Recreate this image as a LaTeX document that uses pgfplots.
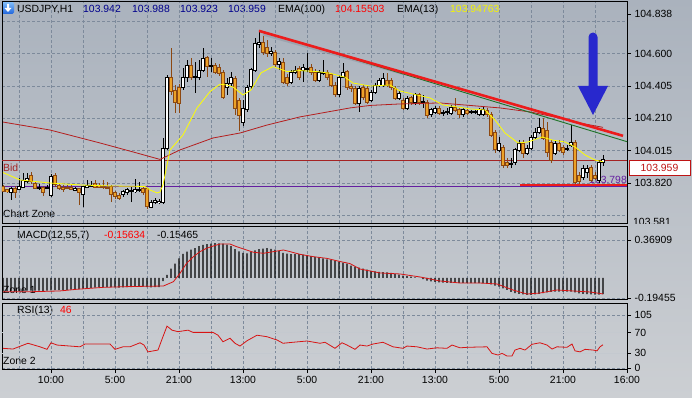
\documentclass[border=0pt]{standalone}
\usepackage{pgfplots}
\pgfplotsset{compat=1.18}
\usepackage{pgfplotstable}
\usepackage{fontspec}
\setmainfont{Liberation Sans}
\newcommand{\tf}{\fontsize{10.4pt}{12pt}\selectfont}
\definecolor{bgtop}{RGB}{170,178,189}
\definecolor{bgbot}{RGB}{204,207,211}
\definecolor{gridc}{RGB}{125,138,155}
\definecolor{candor}{RGB}{236,162,40}
\definecolor{candbr}{RGB}{140,72,18}
\definecolor{emay}{RGB}{255,255,0}
\definecolor{emar}{RGB}{180,30,30}
\definecolor{bidc}{RGB}{165,35,35}
\definecolor{purp}{RGB}{100,30,160}
\definecolor{trendr}{RGB}{236,28,28}
\definecolor{trendg}{RGB}{30,115,40}
\definecolor{arrb}{RGB}{40,40,205}
\definecolor{sigr}{RGB}{215,20,20}
\definecolor{navyc}{RGB}{0,0,140}
\definecolor{titley}{RGB}{245,245,0}
\definecolor{boxred}{RGB}{190,20,20}
\definecolor{lvlc}{RGB}{196,201,207}
\definecolor{icontop}{RGB}{130,190,250}
\definecolor{iconbot}{RGB}{30,100,220}
\definecolor{shadowc}{RGB}{140,148,160}

\pgfplotstableread{
i o h l c
0 103.802 103.808 103.766 103.772
1 103.778 103.784 103.760 103.766
2 103.766 103.796 103.718 103.790
3 103.790 103.802 103.730 103.766
4 103.784 103.850 103.778 103.802
5 103.796 103.880 103.790 103.838
6 103.826 103.880 103.820 103.850
7 103.868 103.886 103.814 103.826
8 103.820 103.832 103.784 103.790
9 103.790 103.814 103.778 103.796
10 103.790 103.802 103.742 103.760
11 103.790 103.808 103.784 103.796
12 103.748 103.874 103.736 103.862
13 103.868 103.880 103.796 103.808
14 103.808 103.820 103.778 103.790
15 103.796 103.808 103.766 103.784
16 103.796 103.808 103.784 103.790
17 103.796 103.814 103.778 103.784
18 103.778 103.796 103.772 103.790
19 103.784 103.790 103.687 103.760
20 103.748 103.802 103.675 103.796
21 103.796 103.838 103.790 103.808
22 103.802 103.832 103.796 103.808
23 103.820 103.838 103.790 103.796
24 103.808 103.820 103.790 103.796
25 103.802 103.838 103.784 103.796
26 103.796 103.826 103.784 103.790
27 103.796 103.808 103.705 103.748
28 103.760 103.772 103.724 103.736
29 103.748 103.760 103.718 103.730
30 103.748 103.778 103.736 103.766
31 103.760 103.790 103.748 103.778
32 103.766 103.796 103.705 103.772
33 103.766 103.844 103.760 103.778
34 103.778 103.826 103.766 103.784
35 103.784 103.796 103.748 103.760
36 103.784 103.790 103.663 103.675
37 103.675 103.718 103.669 103.705
38 103.705 103.730 103.693 103.718
39 103.705 103.724 103.693 103.712
40 103.705 104.091 103.693 104.031
41 104.031 104.471 104.019 104.458
42 104.458 104.633 104.350 104.368
43 104.380 104.410 104.242 104.308
44 104.398 104.416 104.242 104.302
45 104.398 104.513 104.380 104.458
46 104.458 104.561 104.428 104.531
47 104.531 104.573 104.440 104.458
48 104.458 104.549 104.362 104.464
49 104.458 104.561 104.440 104.501
50 104.501 104.633 104.489 104.573
51 104.573 104.585 104.458 104.519
52 104.525 104.573 104.489 104.531
53 104.531 104.543 104.477 104.489
54 104.519 104.537 104.465 104.483
55 104.483 104.501 104.326 104.338
56 104.398 104.452 104.350 104.422
57 104.422 104.489 104.404 104.458
58 104.452 104.465 104.230 104.272
59 104.320 104.332 104.133 104.230
60 104.187 104.320 104.163 104.272
61 104.260 104.410 104.248 104.398
62 104.398 104.513 104.386 104.501
63 104.501 104.693 104.489 104.663
64 104.657 104.742 104.633 104.669
65 104.669 104.705 104.591 104.603
66 104.639 104.681 104.579 104.603
67 104.603 104.639 104.585 104.615
68 104.603 104.621 104.513 104.531
69 104.531 104.573 104.501 104.549
70 104.549 104.573 104.416 104.428
71 104.458 104.477 104.404 104.422
72 104.428 104.501 104.416 104.489
73 104.489 104.525 104.477 104.501
74 104.507 104.525 104.440 104.458
75 104.501 104.537 104.428 104.519
76 104.507 104.603 104.489 104.513
77 104.519 104.537 104.471 104.489
78 104.489 104.507 104.428 104.440
79 104.440 104.501 104.428 104.489
80 104.483 104.561 104.471 104.489
81 104.489 104.501 104.440 104.458
82 104.471 104.483 104.398 104.410
83 104.410 104.428 104.338 104.350
84 104.350 104.471 104.338 104.458
85 104.458 104.543 104.452 104.489
86 104.489 104.501 104.380 104.398
87 104.404 104.416 104.368 104.392
88 104.392 104.404 104.290 104.302
89 104.302 104.404 104.248 104.392
90 104.398 104.410 104.320 104.338
91 104.392 104.404 104.296 104.308
92 104.320 104.380 104.308 104.368
93 104.368 104.422 104.356 104.410
94 104.410 104.452 104.398 104.440
95 104.410 104.483 104.398 104.452
96 104.440 104.483 104.398 104.410
97 104.440 104.452 104.380 104.398
98 104.392 104.404 104.320 104.332
99 104.332 104.374 104.320 104.362
100 104.320 104.332 104.260 104.272
101 104.272 104.344 104.260 104.332
102 104.332 104.344 104.290 104.302
103 104.302 104.362 104.290 104.350
104 104.350 104.362 104.290 104.302
105 104.308 104.350 104.272 104.314
106 104.308 104.320 104.211 104.230
107 104.230 104.272 104.218 104.260
108 104.248 104.284 104.236 104.272
109 104.272 104.284 104.230 104.242
110 104.236 104.260 104.224 104.242
111 104.242 104.272 104.230 104.248
112 104.242 104.290 104.230 104.278
113 104.278 104.332 104.248 104.260
114 104.260 104.272 104.211 104.230
115 104.230 104.272 104.218 104.260
116 104.260 104.272 104.230 104.242
117 104.242 104.260 104.236 104.248
118 104.242 104.260 104.236 104.248
119 104.230 104.272 104.224 104.260
120 104.230 104.278 104.224 104.260
121 104.254 104.272 104.218 104.230
122 104.230 104.248 104.097 104.109
123 104.127 104.139 104.001 104.019
124 104.019 104.097 104.007 104.061
125 104.037 104.049 103.910 103.928
126 103.946 103.971 103.910 103.928
127 103.934 103.971 103.910 103.940
128 103.940 104.031 103.928 104.019
129 104.019 104.079 104.007 104.061
130 104.061 104.079 103.971 104.001
131 104.001 104.049 103.989 104.031
132 104.031 104.109 104.019 104.097
133 104.097 104.151 104.085 104.127
134 104.127 104.211 104.115 104.157
135 104.151 104.211 104.079 104.091
136 104.139 104.187 103.977 104.001
137 104.067 104.079 103.940 103.958
138 104.001 104.079 103.989 104.061
139 104.061 104.079 104.007 104.019
140 104.037 104.049 103.989 104.007
141 104.025 104.049 104.013 104.031
142 104.049 104.169 104.037 104.067
143 104.067 104.079 103.808 103.826
144 103.868 103.886 103.814 103.826
145 103.856 103.928 103.838 103.910
146 103.886 103.928 103.850 103.910
147 103.916 103.928 103.826 103.838
148 103.868 103.886 103.838 103.850
149 103.838 103.958 103.820 103.946
150 103.942 103.988 103.923 103.959
}\candles

\pgfplotstableread{
i m
0 -0.128
1 -0.128
2 -0.127
3 -0.127
4 -0.126
5 -0.124
6 -0.122
7 -0.122
8 -0.123
9 -0.124
10 -0.125
11 -0.124
12 -0.120
13 -0.118
14 -0.118
15 -0.117
16 -0.115
17 -0.113
18 -0.110
19 -0.108
20 -0.104
21 -0.100
22 -0.097
23 -0.094
24 -0.092
25 -0.090
26 -0.089
27 -0.090
28 -0.092
29 -0.093
30 -0.092
31 -0.090
32 -0.088
33 -0.086
34 -0.085
35 -0.085
36 -0.090
37 -0.092
38 -0.090
39 -0.088
40 -0.030
41 0.030
42 0.090
43 0.140
44 0.190
45 0.235
46 0.255
47 0.275
48 0.290
49 0.310
50 0.322
51 0.328
52 0.335
53 0.338
54 0.337
55 0.333
56 0.325
57 0.310
58 0.280
59 0.258
60 0.245
61 0.240
62 0.255
63 0.268
64 0.280
65 0.286
66 0.289
67 0.282
68 0.275
69 0.262
70 0.243
71 0.237
72 0.232
73 0.231
74 0.233
75 0.228
76 0.222
77 0.212
78 0.206
79 0.200
80 0.190
81 0.180
82 0.176
83 0.170
84 0.160
85 0.150
86 0.140
87 0.120
88 0.110
89 0.100
90 0.090
91 0.080
92 0.070
93 0.065
94 0.060
95 0.058
96 0.055
97 0.050
98 0.040
99 0.032
100 0.024
101 0.018
102 0.012
103 0.006
104 0.002
105 -0.010
106 -0.025
107 -0.033
108 -0.038
109 -0.042
110 -0.045
111 -0.047
112 -0.047
113 -0.046
114 -0.047
115 -0.048
116 -0.048
117 -0.049
118 -0.050
119 -0.050
120 -0.051
121 -0.052
122 -0.062
123 -0.075
124 -0.085
125 -0.100
126 -0.115
127 -0.135
128 -0.148
129 -0.155
130 -0.160
131 -0.163
132 -0.163
133 -0.160
134 -0.155
135 -0.148
136 -0.140
137 -0.136
138 -0.133
139 -0.132
140 -0.132
141 -0.133
142 -0.133
143 -0.140
144 -0.150
145 -0.155
146 -0.158
147 -0.160
148 -0.162
149 -0.162
150 -0.156
}\macd

\pgfplotsset{
  panel/.style={
    scale only axis, width=625pt, anchor=south west,
    xmin=-0.25, xmax=156,
    axis line style={black, line width=0.9pt},
    xtick={12,28,...,156}, minor xtick={4,20,...,148},
    xmajorgrids, xminorgrids,
    major grid style={gridc, dash pattern=on 3pt off 2pt, line width=0.6pt},
    minor grid style={gridc, dash pattern=on 3pt off 2pt, line width=0.6pt},
    minor tick length=0pt, major tick length=4pt, tick align=outside,
    ytick pos=right, yticklabel pos=right, xtick pos=bottom,
    tick label style={font=\tf, text=black},
    tick style={black, line width=0.6pt},
  },
  wick/.style 2 args={draw=none, mark=none, forget plot,
    error bars/y dir=plus, error bars/y explicit, error bars/error mark=none,
    error bars/error bar style={draw=#1, line width=#2, solid}},
  body/.style 2 args={draw=none, mark=none, forget plot,
    error bars/y dir=both, error bars/y explicit, error bars/error mark=none,
    error bars/error bar style={draw=#1, line width=#2, solid}},
}

\begin{document}
\begin{tikzpicture}[x=1pt,y=1pt]
\useasboundingbox (0,0) rectangle (692,397);
\shade[top color=bgtop, bottom color=bgbot] (0,0) rectangle (692,397);

% title row
\shade[rounded corners=1.5pt, top color=icontop, bottom color=iconbot] (2,383) rectangle (14,395);
\fill[white] (7,393) -- (9,393) -- (9,389) -- (11.5,389) -- (8,385) -- (4.5,389) -- (7,389) -- cycle;
\node[anchor=base west, inner sep=0, font=\tf] at (17,384) {USDJPY,H1};
\node[anchor=base west, inner sep=0, font=\tf, text=navyc] at (83,384) {103.942};
\node[anchor=base west, inner sep=0, font=\tf, text=navyc] at (132,384) {103.988};
\node[anchor=base west, inner sep=0, font=\tf, text=navyc] at (180,384) {103.923};
\node[anchor=base west, inner sep=0, font=\tf, text=navyc] at (228,384) {103.959};
\node[anchor=base west, inner sep=0, font=\tf] at (278,384) {EMA(100)};
\node[anchor=base west, inner sep=0, font=\tf, text=red] at (335,384) {104.15503};
\node[anchor=base west, inner sep=0, font=\tf] at (397,384) {EMA(13)};
\node[anchor=base west, inner sep=0, font=\tf, text=titley] at (450,384) {103.94763};
\node[anchor=base west, inner sep=0, font=\tf, text=bidc] at (3,226) {Bid};
\node[anchor=base west, inner sep=0, font=\tf] at (3,180) {Chart Zone};
\node[anchor=base east, inner sep=0, font=\tf, text=purp] at (627,214) {103.798};
\node[anchor=base west, inner sep=0, font=\tf] at (17,159) {MACD(12,55,7)};
\node[anchor=base west, inner sep=0, font=\tf, text=red] at (104,159) {-0.15634};
\node[anchor=base west, inner sep=0, font=\tf] at (157,159) {-0.15465};
\node[anchor=base west, inner sep=0, font=\tf] at (3,104) {Zone 1};
\node[anchor=base west, inner sep=0, font=\tf] at (17,84) {RSI(13)};
\node[anchor=base west, inner sep=0, font=\tf, text=red] at (60,84) {46};
\node[anchor=base west, inner sep=0, font=\tf] at (3,33) {Zone 2};

% ---------- price panel ----------
\begin{axis}[panel, at={(2pt,174pt)}, height=222pt,
  ymin=103.579, ymax=104.916,
  ytick={104.838,104.600,104.405,104.210,104.015,103.820},
  yticklabels={104.838,104.600,104.405,104.210,104.015,103.820},
  minor ytick={104.795,104.600,104.405,104.210,104.015,103.820,103.625},
  ymajorgrids=false, yminorgrids,
  xticklabels={}, xtick style={draw=none}]
\addplot[bidc, line width=0.7pt] coordinates {(-0.25,103.959) (156,103.959)};
\addplot[purp, line width=1pt] coordinates {(-0.25,103.798) (156,103.798)};
% bearish
\addplot[restrict expr to domain={\thisrow{o}-\thisrow{c}}{0.0000001:10}, wick={candbr}{0.9pt}]
  table[x=i, y=l, y error expr={\thisrow{h}-\thisrow{l}}] {\candles};
\addplot[restrict expr to domain={\thisrow{o}-\thisrow{c}}{0.0000001:10}, body={candbr}{3.2pt}]
  table[x=i, y expr={(\thisrow{o}+\thisrow{c})/2}, y error expr={(\thisrow{o}-\thisrow{c})/2+0.003}] {\candles};
\addplot[restrict expr to domain={\thisrow{o}-\thisrow{c}}{0.0000001:10}, body={candor}{1.6pt}]
  table[x=i, y expr={(\thisrow{o}+\thisrow{c})/2}, y error expr={max((\thisrow{o}-\thisrow{c})/2-0.003,0)}] {\candles};
% bullish
\addplot[restrict expr to domain={\thisrow{c}-\thisrow{o}}{0:10}, wick={black}{0.9pt}]
  table[x=i, y=l, y error expr={\thisrow{h}-\thisrow{l}}] {\candles};
\addplot[restrict expr to domain={\thisrow{c}-\thisrow{o}}{0:10}, body={black}{3.2pt}]
  table[x=i, y expr={(\thisrow{o}+\thisrow{c})/2}, y error expr={(\thisrow{c}-\thisrow{o})/2+0.003}] {\candles};
\addplot[restrict expr to domain={\thisrow{c}-\thisrow{o}}{0:10}, body={white}{1.6pt}]
  table[x=i, y expr={(\thisrow{o}+\thisrow{c})/2}, y error expr={max((\thisrow{c}-\thisrow{o})/2-0.003,0)}] {\candles};
% EMA(100)
\addplot[emar, line width=0.8pt] coordinates {
 (0,104.187) (11.75,104.139) (24.25,104.061) (32.5,104.007) (39.25,103.962)
 (44.25,104.019) (52.5,104.091) (59.25,104.121) (66,104.169) (74.25,104.218)
 (86.75,104.272) (91.75,104.287) (99.25,104.296) (109.25,104.302) (116.75,104.287)
 (124.25,104.272) (131.75,104.248) (139.25,104.211) (144.25,104.181) (150,104.155)};
% EMA(13)
\addplot[emay, line width=0.8pt] coordinates {
 (0,103.883) (4.25,103.838) (6.75,103.832) (11.75,103.820) (19.25,103.808)
 (26.75,103.802) (35.5,103.799) (36.75,103.778) (38.5,103.760) (39.25,103.766)
 (40,103.808) (41.75,104.019) (45,104.109) (48.5,104.272) (51.75,104.370)
 (54.25,104.415) (56,104.410) (57.5,104.398) (60,104.350) (62,104.380)
 (64.5,104.483) (67.5,104.521) (71,104.491) (74.25,104.497) (78.5,104.491)
 (81.75,104.481) (85.5,104.457) (87.5,104.422) (91.75,104.404) (96.75,104.410)
 (99.25,104.374) (103.5,104.350) (106.75,104.332) (110,104.290) (113.5,104.278)
 (116.75,104.266) (120.5,104.260) (123,104.199) (125.5,104.121) (128.75,104.061)
 (131.25,104.067) (134.75,104.097) (137.25,104.079) (140.5,104.067) (143,104.037)
 (145.5,103.989) (148,103.958) (150,103.948)};
% trend lines
\addplot[shadowc, line width=2.5pt, opacity=0.5] coordinates {(65,104.715) (100,104.478)};
\addplot[trendg, line width=0.9pt] coordinates {(64,104.739) (156.25,104.067)};
\addplot[trendr, line width=2.6pt] coordinates {(64,104.736) (155,104.104)};
\addplot[trendr, line width=2.6pt] coordinates {(129.25,103.808) (156,103.808)};
\end{axis}

% ---------- MACD panel ----------
\begin{axis}[panel, at={(2pt,98pt)}, height=73pt,
  ymin=-0.2043, ymax=0.5051,
  ytick={0.36909,-0.19455}, yticklabels={0.36909,-0.19455},
  ymajorgrids,
  xticklabels={}, xtick style={draw=none}]
\addplot[ybar, bar width=1.3pt, bar shift=0pt, fill=black, draw=none] table[x=i, y=m] {\macd};
\addplot[sigr, line width=0.8pt] coordinates {
 (0,-0.133) (7.6,-0.133) (14.25,-0.126) (18.4,-0.110) (25.1,-0.091) (30.9,-0.084)
 (40.1,-0.078) (42.6,-0.036) (44.25,0.045) (45.9,0.143) (47.6,0.207) (49.25,0.256)
 (50.9,0.289) (52.6,0.311) (54.25,0.330) (56.75,0.330) (58.4,0.304) (60.9,0.272)
 (62.6,0.250) (65.1,0.240) (67.6,0.256) (70.1,0.272) (71.75,0.256) (74.25,0.230)
 (77.6,0.207) (80.9,0.191) (84.25,0.160) (86.75,0.140) (89.25,0.087) (94.25,0.049)
 (99.25,0.039) (104.25,0.010) (109.25,-0.029) (114.25,-0.049) (119.25,-0.049)
 (123.5,-0.058) (127.5,-0.117) (131,-0.156) (134.25,-0.146) (138.5,-0.117)
 (142.5,-0.126) (146.75,-0.136) (150,-0.155)};
\end{axis}

% ---------- RSI panel ----------
\begin{axis}[panel, at={(2pt,28pt)}, height=66pt,
  ymin=-1.98, ymax=128.8,
  ytick={0,30,70,105}, yticklabels={0,30,70,105},
  minor ytick={0,105}, yminorgrids,
  xticklabels={10:00,5:00,21:00,13:00,5:00,21:00,13:00,5:00,21:00,16:00}]
\addplot[color=lvlc, line width=0.6pt] coordinates {(-0.25,30) (156,30)};
\addplot[color=lvlc, line width=0.6pt] coordinates {(-0.25,70) (156,70)};
\addplot[sigr, line width=0.8pt] coordinates {
 (0,39) (2.5,37.6) (6.25,49) (9.25,42) (11,37) (12,50) (13.5,45.5) (19.25,42)
 (20.5,47.5) (26.75,47.5) (28,37) (30,42) (31.75,42) (34.25,50) (35.25,45.5)
 (36.25,32) (38.75,35.6) (39.75,57) (41,83) (42.25,75) (43.75,72) (46.25,75)
 (47.5,70.6) (49.75,70.6) (52.5,70.6) (53.75,65) (55,52) (56.75,59) (58,49)
 (59.25,43.5) (61,54) (63.5,65) (66,62) (68.5,55.5) (70,49) (72.5,51) (76,53.5)
 (79.25,49) (80.5,51) (83,39) (84.75,50) (86,45.5) (88,37) (89.25,45.5) (91,43.5)
 (92.5,47.5) (95,51) (97.5,42) (100,39) (101,43.5) (103.5,42) (106,37.6) (108.5,40)
 (111,39) (112.25,45.5) (114.25,40) (116,41) (121,42) (122.25,29) (123.75,25.7)
 (124.75,29) (126,23.8) (127.25,23.8) (128,35.6) (129.25,39) (130.5,35.6)
 (132.25,47) (134.25,50) (136,45.5) (137.25,37.6) (138.5,42) (141,41) (142.25,47.5)
 (143,34) (144.25,32) (145.5,37) (147.5,35.6) (148.5,34) (149.25,42) (150,46)};
\end{axis}

% right-side extras
\begin{scope}
\clip (628,174) rectangle (692,200);
\node[anchor=west, inner sep=0, font=\tf] at (633,175.5) {103.581};
\end{scope}
\node[draw=boxred, fill=white, text=boxred, font=\tf, inner sep=0, minimum width=61pt, minimum height=15pt, line width=0.8pt] at (659.5,229.5) {103.959};
% blue arrow annotation
\fill[arrb] (588.5,311) -- (588.5,360) arc[start angle=180, end angle=0, radius=4.5] -- (597.5,311) -- (608,311) -- (593,282) -- (578,311) -- cycle;
\end{tikzpicture}
\end{document}
